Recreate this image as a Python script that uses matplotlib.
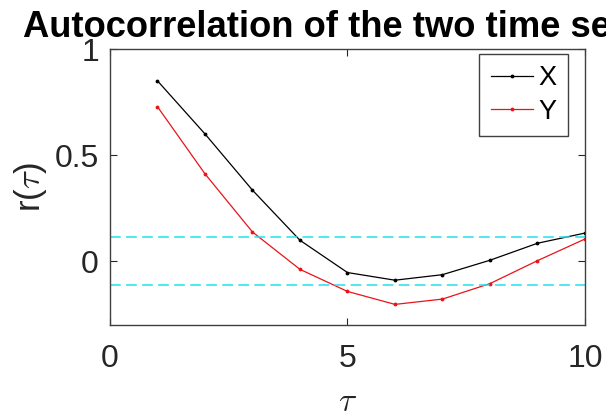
import matplotlib
matplotlib.use("Agg")
import matplotlib.pyplot as plt

plt.rcParams['font.family'] = ['Liberation Sans', 'DejaVu Sans']
plt.rcParams['mathtext.fontset'] = 'cm'

# Sample autocorrelation at lags 1..10
lags = [1, 2, 3, 4, 5, 6, 7, 8, 9, 10]
r_x = [0.850, 0.600, 0.335, 0.099, -0.053, -0.089, -0.063, 0.005, 0.085, 0.133]
r_y = [0.728, 0.412, 0.138, -0.038, -0.142, -0.203, -0.178, -0.105, 0.003, 0.105]
conf_bound = 0.113  # approx. 95% significance band

x_ticks = [0, 5, 10]
y_ticks = [0, 0.5, 1]

tick_color = '#262626'

fig = plt.figure(figsize=(6.06, 4.15), dpi=100)
ax = fig.add_axes([0.1815, 0.2169, 0.7838, 0.665])

ax.plot(lags, r_x, 'k.-', lw=0.9, ms=3.5, label='X')
ax.plot(lags, r_y, '.-', color='#e8141a', lw=0.9, ms=3.5, label='Y')
ax.axhline(conf_bound, color='#1fe3ef', ls=(0, (7, 3.5)), lw=1.1)
ax.axhline(-conf_bound, color='#1fe3ef', ls=(0, (7, 3.5)), lw=1.1)

ax.set_xlim(0, 10)
ax.set_ylim(-0.3, 1)
ax.set_xticks(x_ticks)
ax.set_yticks(y_ticks)
ax.set_xticklabels([str(t) for t in x_ticks])
ax.set_yticklabels(['0', '0.5', '1'])

ax.tick_params(direction='in', length=5, width=0.8, colors=tick_color,
               labelsize=23, top=True, right=True)
ax.tick_params(axis='x', pad=14)
ax.tick_params(axis='y', pad=8)
for s in ax.spines.values():
    s.set_color('#404040')
    s.set_linewidth(1.0)

ax.set_xlabel(r'$\tau$', fontsize=24, color=tick_color, labelpad=9)
ax.set_ylabel(r'r($\tau$)', fontsize=25, color=tick_color, labelpad=4)
fig.text(23 / 606, 1 - 37 / 415, 'Autocorrelation of the two time series',
         fontsize=26.2, fontweight='bold', ha='left', va='baseline')

leg = ax.legend(loc='upper right', bbox_to_anchor=(567.7 / 606, 1 - 54 / 415),
                bbox_transform=fig.transFigure, borderaxespad=0,
                fontsize=19.5, fancybox=False, framealpha=1,
                edgecolor='#404040', handlelength=1.55, handletextpad=0.2,
                borderpad=0.42, labelspacing=0.28, numpoints=1)
leg.get_frame().set_linewidth(1.0)

fig.savefig('out.png', dpi=100)
